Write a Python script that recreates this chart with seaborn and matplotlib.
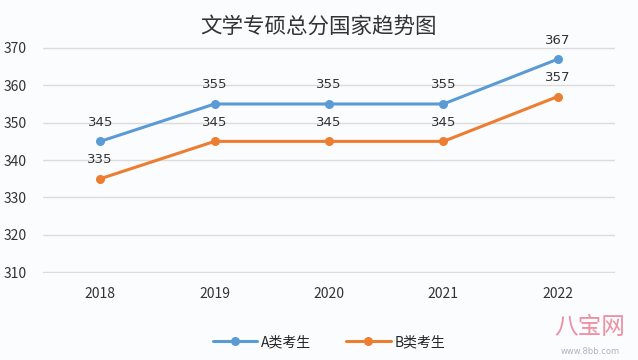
import pandas as pd
import matplotlib.pyplot as plt
import seaborn as sns

# Data
years = ['2018', '2019', '2020', '2021', '2022']
series_a = [345, 355, 355, 355, 367]
series_b = [335, 345, 345, 345, 357]
series_names = ['A类考生', 'B类考生']
colors = ['#5b9bd5', '#ed7d31']

df = pd.DataFrame({
    'year': years * 2,
    'score': series_a + series_b,
    'group': [series_names[0]] * len(years) + [series_names[1]] * len(years),
})

sns.set_theme(style="whitegrid")
plt.rcParams['font.family'] = ['Noto Sans CJK SC', 'DejaVu Sans']

fig = plt.figure(figsize=(6.38, 3.6), dpi=100, facecolor='#fbfcfe')
ax = fig.add_axes([0.0674, 0.2417, 0.8966, 0.6273])
ax.set_facecolor('#fbfcfe')

sns.lineplot(data=df, x='year', y='score', hue='group', palette=colors,
             marker='o', markersize=6.5, markeredgewidth=0, linewidth=2.2,
             sort=False, ax=ax)

# value labels above each point
for vals, name in zip([series_a, series_b], series_names):
    for i, v in enumerate(vals):
        ax.annotate(str(v), (i, v), textcoords='offset points', xytext=(0, 9),
                    ha='center', va='bottom', fontsize=9.5, color='#333333',
                    family=['DejaVu Sans'])

ax.set_ylim(309.8, 370.2)
ax.set_yticks(range(310, 371, 10))
ax.set_xlim(-0.5, len(years) - 0.5)
ax.grid(axis='x', visible=False)
ax.grid(axis='y', color='#dcdcdc', linewidth=1)
for s in ax.spines.values():
    s.set_visible(False)
ax.tick_params(axis='both', length=0, labelsize=10, colors='#333333')
ax.tick_params(axis='x', pad=10)
ax.tick_params(axis='y', pad=12)
ax.set_xlabel('')
ax.set_ylabel('')

ax.legend(loc='upper center', bbox_to_anchor=(0.5, -0.22), ncol=2, frameon=False,
          fontsize=10, handlelength=3.2, columnspacing=2.5, handletextpad=0.3)

fig.text(0.5, 0.925, '文学专硕总分国家趋势图', ha='center', va='center',
         fontsize=15.5, color='#333333')

# watermark
fig.text(0.925, 0.09, '八宝网', ha='center', va='center', fontsize=17, color='#ee8fa3')
fig.text(0.925, 0.025, 'www.8bb.com', ha='center', va='center', fontsize=6, color='#b0b4c0',
         family=['DejaVu Sans'])

fig.savefig('out.png', dpi=100, facecolor=fig.get_facecolor())
